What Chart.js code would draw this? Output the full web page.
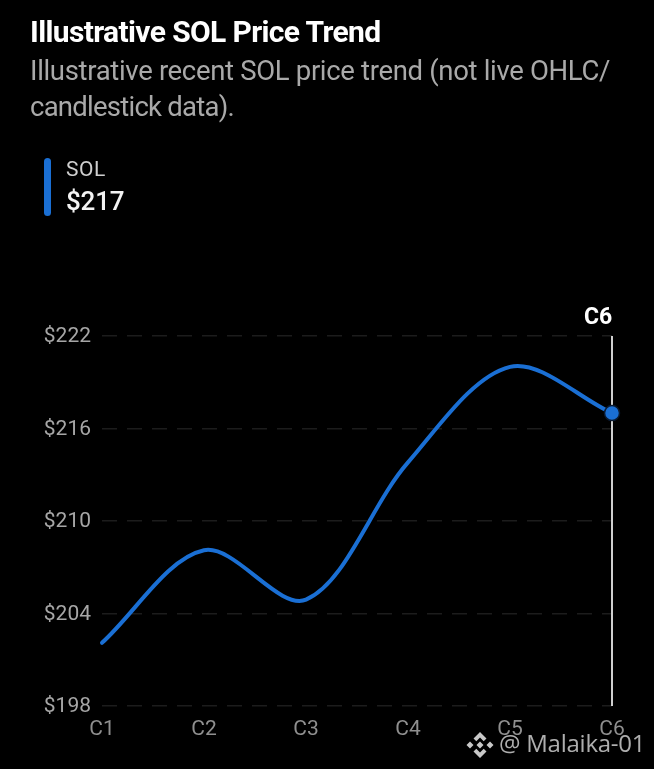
<!DOCTYPE html>
<html>
<head>
<meta charset="utf-8">
<title>Illustrative SOL Price Trend</title>
<script src="https://cdn.jsdelivr.net/npm/chart.js@4/dist/chart.umd.min.js"></script>
<style>
html, body { margin: 0; padding: 0; background: #000; }
body { width: 654px; height: 769px; position: relative; overflow: hidden; font-family: Roboto, sans-serif; }
#chart_sol { position: absolute; left: 0; top: 0; }
.abs { position: absolute; white-space: nowrap; }
#title { left: 30px; top: 15px; font-size: 30px; line-height: 34px; font-weight: 700; color: #fff; letter-spacing: -0.63px; }
#subtitle { left: 30px; top: 53px; font-size: 27.5px; line-height: 36px; color: #a9a9a9; letter-spacing: -0.33px; }
#subtitle span { letter-spacing: -0.75px; }
#legend_bar { left: 44px; top: 158px; width: 7px; height: 58px; border-radius: 4px; background: #1a6fd4; }
#legend_name { left: 66px; top: 157px; font-size: 21px; line-height: 24px; color: #cfcfcf; letter-spacing: 0.6px; }
#legend_value { left: 66px; top: 186px; font-size: 26px; line-height: 30px; font-weight: 500; color: #f2f2f2; letter-spacing: -0.2px; }
#mark { left: 466px; top: 728px; font-family: "Open Sans", sans-serif; font-size: 24px; line-height: 30px; color: rgba(205,205,205,0.85); letter-spacing: -0.25px; }
#mark svg { vertical-align: -7px; margin-right: 5px; }
</style>
</head>
<body>
<canvas id="chart_sol" width="654" height="769"></canvas>
<div class="abs" id="title">Illustrative SOL Price Trend</div>
<div class="abs" id="subtitle">Illustrative recent SOL price trend (not live OHLC/<br><span>candlestick data).</span></div>
<div class="abs" id="legend_bar"></div>
<div class="abs" id="legend_name">SOL</div>
<div class="abs" id="legend_value">$217</div>
<div class="abs" id="mark"><svg width="28" height="28" viewBox="0 0 28 28" fill="#c8c8c8"><path d="M14 1l6.500 6.500-2.800 2.800L14 6.600l-3.700 3.700-2.800-2.800zM4 10.500L7.500 14 4 17.500 .5 14zM24 10.500l3.500 3.500-3.500 3.500-3.500-3.500zM14 10.500l3.500 3.500-3.500 3.500-3.500-3.500zM7.500 20.500l2.800-2.800 3.700 3.700 3.700-3.700 2.800 2.800L14 27z" fill-rule="evenodd"/></svg>@ Malaika-01</div>
<script>
const categories = ['C1', 'C2', 'C3', 'C4', 'C5', 'C6'];
const solPrices = [202.1, 208.1, 204.9, 213.8, 220, 217];
const yTicks = [198, 204, 210, 216, 222];

const lineBlue = '#1a6fd4';

// grey cursor line and C6 label over the last point
const cursorLine = {
    id: 'cursorLine',
    beforeDatasetsDraw(chart) {
        const ctx = chart.ctx;
        const last = categories.length - 1;
        const x = chart.scales.x.getPixelForValue(last);
        ctx.save();
        ctx.strokeStyle = '#cfcfcf';
        ctx.lineWidth = 2;
        ctx.beginPath();
        ctx.moveTo(x, chart.chartArea.top);
        ctx.lineTo(x, chart.chartArea.bottom);
        ctx.stroke();
        ctx.fillStyle = '#fff';
        ctx.font = '700 23px Roboto';
        ctx.textAlign = 'center';
        ctx.textBaseline = 'alphabetic';
        ctx.fillText(categories[last], x - 14, chart.chartArea.top - 12);
        ctx.restore();
    }
};

const config_sol = {
    type: 'line',
    data: {
        labels: categories,
        datasets: [{
            label: 'SOL',
            data: solPrices,
            borderColor: lineBlue,
            backgroundColor: lineBlue,
            borderWidth: 4,
            tension: 0.33,
            borderCapStyle: 'round',
            pointRadius: c => c.dataIndex === categories.length - 1 ? 7.5 : 0,
            pointBorderColor: '#0a1a30',
            pointBorderWidth: 1.5
        }]
    },
    options: {
        responsive: false,
        animation: false,
        events: [],
        layout: { padding: { top: 336, right: 42, bottom: 0, left: 0 } },
        plugins: { legend: { display: false }, tooltip: { enabled: false } },
        scales: {
            x: {
                offset: false,
                afterFit: s => { s.height = 63; },
                grid: { display: false },
                border: { display: false },
                ticks: { color: '#8f8f8f', font: { family: 'Roboto', size: 21 }, padding: 3, maxRotation: 0, autoSkip: false }
            },
            y: {
                min: 198,
                max: 222,
                afterFit: s => { s.width = 102; },
                afterBuildTicks: s => { s.ticks = yTicks.map(v => ({ value: v })); },
                grid: { color: '#1c1c1c', lineWidth: 1.5, drawTicks: false },
                border: { display: false, dash: [15, 10] },
                ticks: {
                    color: '#a6a6a6',
                    font: { family: 'Roboto', size: 21 },
                    padding: 11,
                    labelOffset: 1,
                    callback: v => '$' + v
                }
            }
        }
    },
    plugins: [cursorLine]
};

const myChart_sol = new Chart(document.getElementById('chart_sol'), config_sol);
</script>
</body>
</html>
